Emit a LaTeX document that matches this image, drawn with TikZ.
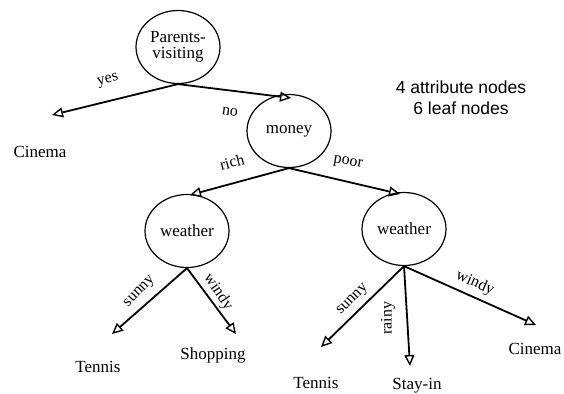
\documentclass[tikz,border=0pt]{standalone}
\usepackage{fontspec}
\setmainfont{Liberation Serif}
\setsansfont{Liberation Sans}
\usetikzlibrary{arrows.meta,shapes.geometric}
\begin{document}
\begin{tikzpicture}[x=1pt,y=-1pt,
  attr/.style={draw,ellipse,line width=1.2pt,minimum width=84pt,minimum height=73pt,inner sep=0pt,font=\fontsize{17}{19}\selectfont,align=center},
  leaf/.style={font=\fontsize{17}{19}\selectfont},
  lbl/.style={font=\fontsize{16}{18}\selectfont,inner sep=0pt},
  branch/.style={line width=1.8pt,-{Triangle[open,length=11pt,width=10pt,line width=1.4pt]}}]
\useasboundingbox (0,0) rectangle (564,393);
\node[attr] (pv) at (178,47) {Parents-\\[-3pt]visiting};
\node[attr] (money) at (289,131) {money};
\node[attr] (wl) at (187,231) {weather};
\node[attr] (wr) at (404,229) {weather};
\coordinate (tc1) at (52,115);
\coordinate (tm) at (291,98);
\coordinate (twl) at (190,195);
\coordinate (twr) at (400,194);
\coordinate (tt1) at (112,334);
\coordinate (ts) at (236,334);
\coordinate (tt2) at (321,347);
\coordinate (tst) at (410,366);
\coordinate (tc2) at (536,325);
\node[leaf] (c1) at (40,152) {Cinema};
\node[leaf] (t1) at (98,367) {Tennis};
\node[leaf] (sh) at (213,355) {Shopping};
\node[leaf] (t2) at (316,383) {Tennis};
\node[leaf] (st) at (417,386) {Stay-in};
\node[leaf] (c2) at (535,349) {Cinema};
\draw[branch] (pv.south) -- (tc1);
\draw[branch] (pv.south) -- (tm);
\draw[branch] (money.south) -- (twl);
\draw[branch] (money.south) -- (twr);
\draw[branch] (wl.south) -- (tt1);
\draw[branch] (wl.south) -- (ts);
\draw[branch] (wr.south) -- (tt2);
\draw[branch] (wr.south) -- (tst);
\draw[branch] (wr.south) -- (tc2);
\node[lbl,rotate=14] (lyes) at (108,81) {yes};
\node[lbl,rotate=-8] (lno) at (230,112) {no};
\node[lbl,rotate=14] (lrich) at (232,162) {rich};
\node[lbl,rotate=-11] (lpoor) at (348,163) {poor};
\node[lbl,rotate=46] (ls1) at (140,292) {sunny};
\node[lbl,rotate=-56] (lw1) at (218,292) {windy};
\node[lbl,rotate=45] (ls2) at (353,300) {sunny};
\node[lbl,rotate=90] (lr) at (388,318) {rainy};
\node[lbl,rotate=-24] (lw2) at (475,283) {windy};
\node[font=\sffamily\fontsize{17.5}{21}\selectfont,align=center] (note) at (461,98) {4 attribute nodes\\6 leaf nodes};
\end{tikzpicture}
\end{document}
